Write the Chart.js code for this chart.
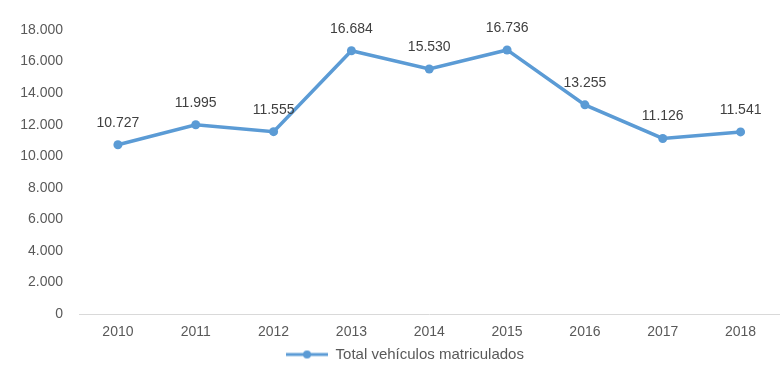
<!DOCTYPE html>
<html><head><meta charset="utf-8">
<script src="https://cdn.jsdelivr.net/npm/chart.js@4/dist/chart.umd.min.js"></script>
<style>html,body{margin:0;padding:0;background:#fff}#wrap{width:784px;height:366px}</style>
</head><body><div id="wrap"><canvas id="c" width="784" height="366"></canvas></div>
<script>
const categories = ['2010','2011','2012','2013','2014','2015','2016','2017','2018'];
const seriesName = 'Total vehículos matriculados';
const values = [10727, 11995, 11555, 16684, 15530, 16736, 13255, 11126, 11541];
const yTicks = [0, 2000, 4000, 6000, 8000, 10000, 12000, 14000, 16000, 18000];

const FONT = '"Liberation Sans", Arial, sans-serif';
const TXT = '#595959';
const LINE = '#5B9BD5';
const fmt = v => v.toLocaleString('de-DE');

const icon = document.createElement('canvas');
icon.width = 42; icon.height = 10;
(function(){const g=icon.getContext('2d');g.strokeStyle=LINE;g.lineWidth=3;g.beginPath();g.moveTo(0,5);g.lineTo(42,5);g.stroke();g.fillStyle=LINE;g.beginPath();g.arc(21,5,4,0,Math.PI*2);g.fill();})();

const labelPlugin = {
  id: 'vlabels',
  afterLayout(chart){ if (chart.legend) { chart.legend.left += 30; } },
  afterDatasetsDraw(chart){
    const ctx = chart.ctx, meta = chart.getDatasetMeta(0);
    ctx.save(); ctx.font = '14px ' + FONT; ctx.fillStyle = '#404040';
    ctx.textAlign = 'center'; ctx.textBaseline = 'middle';
    meta.data.forEach((p,i)=>{ ctx.fillText(fmt(values[i]), p.x, p.y - 22); });
    ctx.restore();
  }
};

new Chart(document.getElementById('c'), {
  type: 'line',
  data: { labels: categories, datasets: [{
    label: seriesName, data: values, borderColor: LINE, backgroundColor: LINE,
    borderWidth: 3.5, pointRadius: 4.5, pointHoverRadius: 4.5, pointBackgroundColor: LINE, pointBorderWidth: 0, tension: 0
  }]},
  options: {
    responsive: false, animation: false, devicePixelRatio: 1,
    layout: { padding: { top: 30, right: 4, left: 0, bottom: -6 } },
    plugins: {
      tooltip: { enabled: false },
      legend: { position: 'bottom', labels: { usePointStyle: true, pointStyle: icon, pointStyleWidth: 42, font: { size: 15, family: FONT }, color: TXT, padding: 0 } }
    },
    scales: {
      x: { offset: true, grid: { display: false, drawTicks: false }, border: { display: true, color: '#D9D9D9', width: 1 },
           afterFit(s){ s.height = 33; },
           ticks: { font: { size: 14, family: FONT }, color: TXT, padding: 10, maxRotation: 0 } },
      y: { min: 0, max: 18000, grid: { display: false, drawTicks: false }, border: { display: false },
           afterFit(s){ s.width = 79; },
           afterBuildTicks(s){ s.ticks = yTicks.map(v=>({value:v})); },
           ticks: { font: { size: 14, family: FONT }, color: TXT, padding: 16, callback: v => fmt(v) } }
    }
  },
  plugins: [labelPlugin]
});
</script></body></html>
